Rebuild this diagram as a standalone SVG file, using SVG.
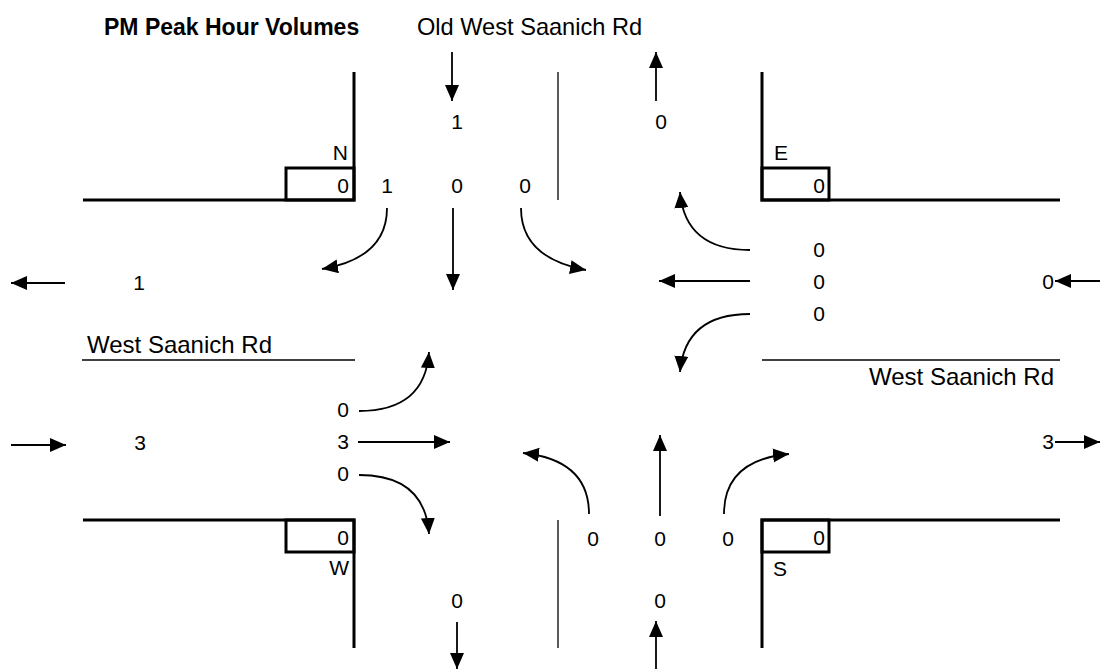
<svg xmlns="http://www.w3.org/2000/svg" width="1100" height="669" viewBox="0 0 1100 669">
  <style>
    .thick { fill: none; stroke: #000; stroke-width: 3; }
    .thin { fill: none; stroke: #000; stroke-width: 1.3; }
    .arr { fill: none; stroke: #000; stroke-width: 1.8; marker-end: url(#ah); }
    .num { font-family: "Liberation Sans", Arial, sans-serif; font-size: 21px; fill: #000; text-anchor: middle; }
    .box { font-family: "Liberation Sans", Arial, sans-serif; font-size: 21px; fill: #000; text-anchor: end; }
    .lbl { font-family: "Liberation Sans", Arial, sans-serif; font-size: 21px; fill: #000; }
    .road { font-family: "Liberation Sans", Arial, sans-serif; font-size: 24px; fill: #000; }
  </style>
  <defs>
    <marker id="ah" markerUnits="userSpaceOnUse" markerWidth="17" markerHeight="15" refX="16" refY="7" orient="auto">
      <path d="M0,0 L16,7 L0,14 z" fill="#000"/>
    </marker>
  </defs>
  <rect width="1100" height="669" fill="#fff"/>

  <g id="title">
    <text x="104" y="35" font-family="Liberation Sans, Arial, sans-serif" font-size="23" font-weight="bold">PM Peak Hour Volumes</text>
    <text x="417" y="35" font-family="Liberation Sans, Arial, sans-serif" font-size="23.6">Old West Saanich Rd</text>
    <text class="road" x="87" y="353">West Saanich Rd</text>
    <text class="road" x="1054" y="385" text-anchor="end">West Saanich Rd</text>
  </g>

  <g id="corner-N">
    <path class="thick" d="M83,200 H354 V72"/>
    <rect class="thick" x="286" y="168" width="68" height="32"/>
    <text class="lbl" x="348" y="160" text-anchor="end">N</text>
    <text class="box" x="349" y="193">0</text>
  </g>
  <g id="corner-E">
    <path class="thick" d="M762,72 V200 H1060"/>
    <rect class="thick" x="762" y="168" width="67" height="32"/>
    <text class="lbl" x="774" y="160">E</text>
    <text class="box" x="825" y="193">0</text>
  </g>
  <g id="corner-W">
    <path class="thick" d="M83,520 H354 V648"/>
    <rect class="thick" x="286" y="520" width="68" height="32"/>
    <text class="lbl" x="349" y="575" text-anchor="end">W</text>
    <text class="box" x="349" y="545">0</text>
  </g>
  <g id="corner-S">
    <path class="thick" d="M1060,520 H762 V648"/>
    <rect class="thick" x="762" y="520" width="67" height="32"/>
    <text class="lbl" x="773" y="576">S</text>
    <text class="box" x="825" y="545">0</text>
  </g>

  <g id="dividers">
    <path class="thin" d="M558,72 V200"/>
    <path class="thin" d="M558,520 V648"/>
    <path class="thin" d="M82,360 H355"/>
    <path class="thin" d="M762,360 H1060"/>
  </g>

  <g id="volumes">
    <text class="num" x="457" y="129">1</text>
    <text class="num" x="661" y="129">0</text>
    <text class="num" x="387" y="193">1</text>
    <text class="num" x="457" y="193">0</text>
    <text class="num" x="525" y="193">0</text>
    <text class="num" x="819" y="257">0</text>
    <text class="num" x="819" y="289">0</text>
    <text class="num" x="819" y="321">0</text>
    <text class="num" x="1048" y="289">0</text>
    <text class="num" x="139" y="290">1</text>
    <text class="num" x="343" y="417">0</text>
    <text class="num" x="343" y="449">3</text>
    <text class="num" x="343" y="481">0</text>
    <text class="num" x="140" y="450">3</text>
    <text class="num" x="1048" y="449">3</text>
    <text class="num" x="593" y="546">0</text>
    <text class="num" x="660" y="546">0</text>
    <text class="num" x="728" y="546">0</text>
    <text class="num" x="457" y="608">0</text>
    <text class="num" x="660" y="608">0</text>
  </g>

  <g id="connectors">
    <!-- north approach -->
    <path class="arr" d="M452,52 V101"/>
    <path class="arr" d="M656,101 V52"/>
    <path class="arr" d="M387,208 Q387,258 322,269"/>
    <path class="arr" d="M453,208 V290"/>
    <path class="arr" d="M521,208 Q521,258 586,270"/>
    <!-- east approach -->
    <path class="arr" d="M750,250 Q685,250 680,192"/>
    <path class="arr" d="M750,281 H659"/>
    <path class="arr" d="M750,314 Q685,314 680,372"/>
    <path class="arr" d="M1100,281 H1055"/>
    <!-- west approach -->
    <path class="arr" d="M65,283 H11"/>
    <path class="arr" d="M11,445 H66"/>
    <path class="arr" d="M359,411 Q425,411 429,352"/>
    <path class="arr" d="M358,442 H450"/>
    <path class="arr" d="M359,475 Q425,475 429,534"/>
    <path class="arr" d="M1055,442 H1100"/>
    <!-- south approach -->
    <path class="arr" d="M589,514 Q589,460 523,453"/>
    <path class="arr" d="M660,516 V435"/>
    <path class="arr" d="M724,514 Q724,460 789,454"/>
    <path class="arr" d="M457,622 V669"/>
    <path class="arr" d="M656,669 V621"/>
  </g>
</svg>
